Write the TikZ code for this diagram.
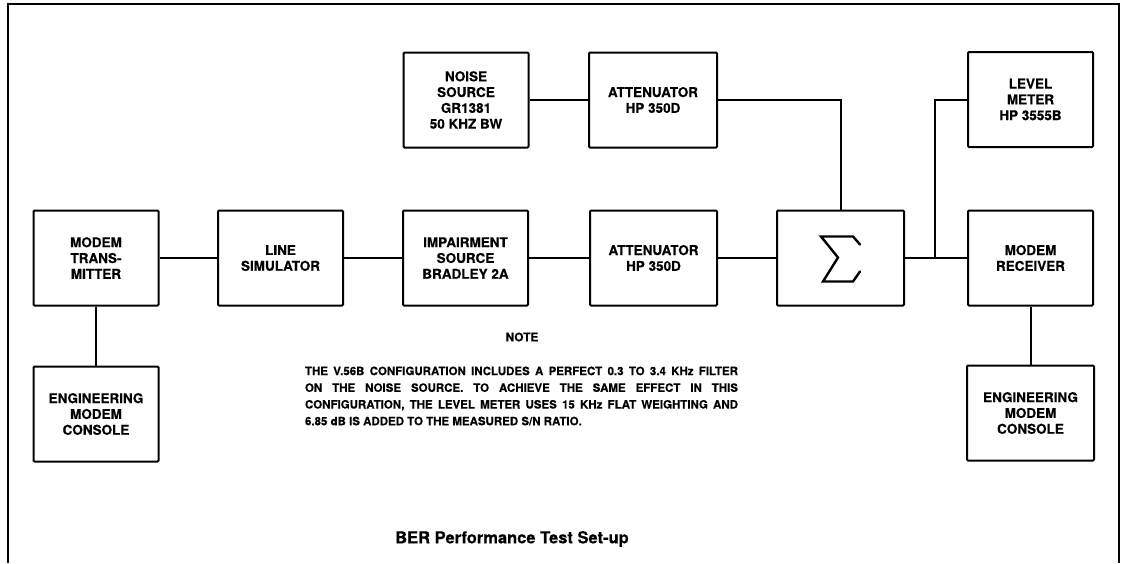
\documentclass[tikz,border=0pt]{standalone}
\usepackage{fontspec}
\setmainfont{TeX Gyre Heros}[BoldFeatures={FakeBold=0.4}]
\begin{document}
\begin{tikzpicture}[x=1pt,y=-1pt,
  blk/.style={draw, line width=2pt, rounded corners=1pt, minimum width=125pt, minimum height=95pt, inner sep=0pt, align=center, font=\fontsize{13.5}{15.8}\selectfont\bfseries},
  wire/.style={line width=2pt},
  frm/.style={line width=1.4pt},
  sig/.style={line width=2.4pt, line join=miter, line cap=round},
  notetxt/.style={font=\fontsize{11.5}{16.7}\selectfont\bfseries, inner sep=0pt},
  ttl/.style={font=\fontsize{16.5}{20}\selectfont\bfseries, inner sep=0pt}]
\useasboundingbox (0,0) rectangle (1124,563);
% frame
\coordinate (f1) at (8,563);
\coordinate (f2) at (8,4);
\coordinate (f3) at (1119,4);
\coordinate (f4) at (1119,563);
\draw[frm] (f1) -- (f2) -- (f3) -- (f4);
% blocks
\node[blk] (tx) at (96,258) {MODEM\\TRANS-\\MITTER};
\node[blk] (eng1) at (96,414) {ENGINEERING\\MODEM\\CONSOLE};
\node[blk] (line) at (280.5,258) {LINE\\SIMULATOR};
\node[blk] (imp) at (465.5,258) {IMPAIRMENT\\SOURCE\\BRADLEY 2A};
\node[blk, minimum width=127pt] (att2) at (653.5,258) {ATTENUATOR\\HP 350D};
\node[blk, minimum width=127pt] (sum) at (840.5,258) {};
\node[blk] (rx) at (1030.5,258) {MODEM\\RECEIVER};
\node[blk, minimum width=127pt] (eng2) at (1030.5,413) {ENGINEERING\\MODEM\\CONSOLE};
\node[blk] (noise) at (466,100) {NOISE\\SOURCE\\GR1381\\50 KHZ BW};
\node[blk, minimum width=128pt] (att1) at (653,100) {ATTENUATOR\\HP 350D};
\node[blk] (lvl) at (1030.5,99.5) {LEVEL\\METER\\HP 3555B};
% sigma glyph
\draw[sig, shift={(sum.center)}] (12.5,-21.5) -- (-19.5,-21.5) -- (-2.5,-0.5) -- (-17.5,23.5) -- (12.5,23.5) -- (19.5,13.5);
\draw[sig, shift={(sum.center)}] (12.5,-21.5) -- (19.5,-13.5);
% connectors
\draw[wire] (tx) -- (line);
\draw[wire] (line) -- (imp);
\draw[wire] (imp) -- (att2);
\draw[wire] (att2) -- (sum);
\draw[wire] (tx) -- (eng1);
\draw[wire] (noise) -- (att1);
\draw[wire] (att1.east) -| (sum.north);
\draw[wire] (sum) -- (rx);
\coordinate (j) at (935,258);
\draw[wire] (j) |- (lvl.west);
\draw[wire] (rx) -- (eng2);
% note
\node[font=\fontsize{11.8}{14}\selectfont\bfseries, inner sep=0pt] (notehd) at (522,337) {NOTE};
\node[notetxt] (note) at (521.5,396) {\parbox{433pt}{\fontsize{11.5}{16.7}\selectfont\bfseries
\makebox[433pt][s]{THE V.56B CONFIGURATION INCLUDES A PERFECT 0.3 TO 3.4 KHz FILTER}\\
\makebox[433pt][s]{ON THE NOISE SOURCE. TO ACHIEVE THE SAME EFFECT IN THIS}\\
\makebox[433pt][s]{CONFIGURATION, THE LEVEL METER USES 15 KHz FLAT WEIGHTING AND}\\
6.85 dB IS ADDED TO THE MEASURED S/N RATIO.}};
\node[ttl] (title) at (512,539) {BER Performance Test Set-up};
\end{tikzpicture}
\end{document}
